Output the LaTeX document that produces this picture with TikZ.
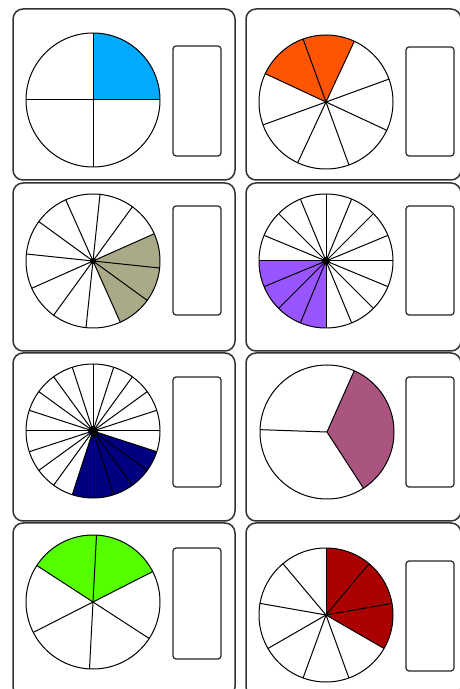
\documentclass[tikz,border=0pt]{standalone}
\tikzset{
  panel/.style={draw=black!80, line width=1.5pt, rounded corners=10pt},
  answerbox/.style={draw=black!85, line width=1.2pt, rounded corners=3pt},
  pieline/.style={draw=black, line width=1pt},
}
\definecolor{cblue}{RGB}{0,170,255}
\definecolor{corange}{RGB}{255,85,0}
\definecolor{colive}{RGB}{170,170,136}
\definecolor{cpurple}{RGB}{153,85,255}
\definecolor{cnavy}{RGB}{0,0,128}
\definecolor{cmauve}{RGB}{170,85,127}
\definecolor{cgreen}{RGB}{85,255,0}
\definecolor{cdred}{RGB}{170,0,0}
% #1 cx, #2 cy (from top), #3 list of line angles, #4 shade start, #5 shade end, #6 colour, #7 dot radius
\newcommand{\fracpie}[7]{%
  \begin{scope}[shift={(#1,{689-#2})}]
    \fill[#6] (0,0) -- (#4:67) arc[start angle=#4, end angle=#5, radius=67] -- cycle;
    \foreach \a in {#3} \draw[pieline] (0,0) -- (\a:67);
    \draw[pieline] (0,0) circle[radius=67];
    \fill[black] (0,0) circle[radius=#7];
  \end{scope}}
\newcommand{\ansbox}[3]{% x left, y top, y bottom (from top)
  \draw[answerbox] (#1,{689-#2}) rectangle ({#1+48},{689-#3});}
\begin{document}
\begin{tikzpicture}[x=1pt,y=1pt]
\useasboundingbox (0,0) rectangle (459,689);
\fill[white] (0,0) rectangle (459,689);
% panels
\foreach \t/\b in {9/180, 183/351, 353/521, 523/697}{
  \draw[panel] (13,{689-\t}) rectangle (235,{689-\b});
  \draw[panel] (246,{689-\t}) rectangle (461,{689-\b});
}
% pies
\fracpie{93}{100}{0,90,180,270}{0}{90}{cblue}{0.5}
\fracpie{326}{102}{20,65,...,335}{65}{155}{corange}{1.2}
\fracpie{93}{261}{-6,24,...,324}{294}{384}{colive}{3}
\fracpie{326}{261}{0,22.5,...,337.5}{180}{270}{cpurple}{4}
\fracpie{93}{431}{0,18,...,342}{252}{342}{cnavy}{5}
\fracpie{327}{432}{66,178,303}{303}{426}{cmauve}{0.5}
\fracpie{93}{602}{27,87,...,327}{27}{147}{cgreen}{0.8}
\fracpie{326}{615}{10,50,...,330}{330}{450}{cdred}{1.5}
% answer boxes
\ansbox{173}{46}{156}
\ansbox{406}{47}{156}
\ansbox{173}{206}{315}
\ansbox{406}{206}{315}
\ansbox{173}{377}{487}
\ansbox{406}{377}{487}
\ansbox{173}{548}{659}
\ansbox{406}{561}{671}
\end{tikzpicture}
\end{document}
